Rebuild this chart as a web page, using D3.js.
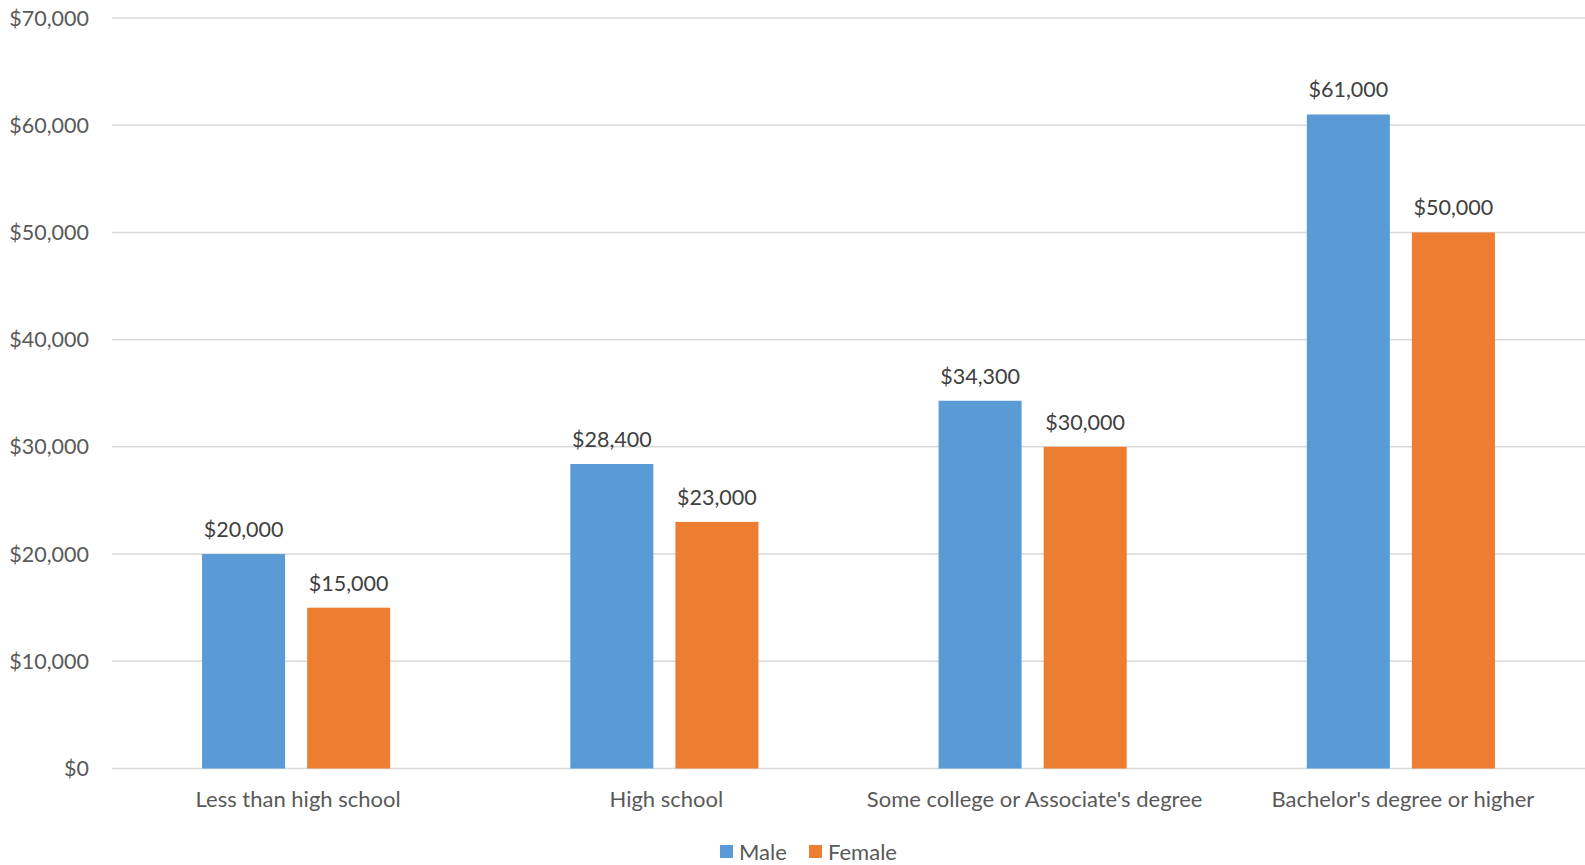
<!DOCTYPE html>
<html>
<head>
<meta charset="utf-8">
<script src="https://cdn.jsdelivr.net/npm/d3@7"></script>
<style>
  body { margin: 0; background: #fff; }
  svg { display: block; font-family: Lato, "Open Sans", sans-serif; }
</style>
</head>
<body>
<svg id="chart" width="1585" height="865"></svg>
<script>
// chart data
const categories = ["Less than high school", "High school", "Some college or Associate's degree", "Bachelor's degree or higher"];
const seriesNames = ["Male", "Female"];
const male = [20000, 28400, 34300, 61000];
const female = [15000, 23000, 30000, 50000];
const yTicks = [0, 10000, 20000, 30000, 40000, 50000, 60000, 70000];
const colors = ["#5b9bd5", "#ed7d31"];

const W = 1585, H = 865;
const margin = { top: 18, right: 0, bottom: 96, left: 112 };
const svg = d3.select("#chart");

const x = d3.scaleBand()
  .domain(categories)
  .range([margin.left, W - margin.right])
  .paddingInner(0)
  .paddingOuter(0);

const x1 = d3.scaleBand()
  .domain(seriesNames)
  .range([0, x.bandwidth()])
  .paddingInner(0.21)
  .paddingOuter(0.857);

const y = d3.scaleLinear()
  .domain([0, 70000])
  .range([H - margin.bottom - 0.5, margin.top]);

const fmt = d3.format("$,");

// gridlines
svg.append("g")
  .selectAll("line")
  .data(yTicks)
  .join("line")
  .attr("x1", margin.left)
  .attr("x2", W - margin.right)
  .attr("y1", d => y(d))
  .attr("y2", d => y(d))
  .attr("stroke", "#d9d9d9")
  .attr("stroke-width", 1.5);

// y labels
svg.append("g")
  .selectAll("text")
  .data(yTicks)
  .join("text")
  .attr("x", 89)
  .attr("y", d => y(d))
  .attr("dy", "0.35em")
  .attr("text-anchor", "end")
  .attr("font-size", 21.5)
  .attr("fill", "#595959")
  .text(d => fmt(d));

const rows = categories.map((c, i) => ({ cat: c, vals: [male[i], female[i]] }));

const groups = svg.append("g")
  .selectAll("g")
  .data(rows)
  .join("g")
  .attr("transform", d => `translate(${x(d.cat)},0)`);

groups.selectAll("rect")
  .data(d => d.vals.map((v, j) => ({ s: seriesNames[j], v, j })))
  .join("rect")
  .attr("x", d => x1(d.s))
  .attr("width", x1.bandwidth())
  .attr("y", d => y(d.v))
  .attr("height", d => y(0) - y(d.v))
  .attr("fill", d => colors[d.j]);

groups.selectAll("text.val")
  .data(d => d.vals.map((v, j) => ({ s: seriesNames[j], v, j })))
  .join("text")
  .attr("class", "val")
  .attr("x", d => x1(d.s) + x1.bandwidth() / 2)
  .attr("y", d => y(d.v) - 17)
  .attr("text-anchor", "middle")
  .attr("font-size", 21.5)
  .attr("fill", "#404040")
  .text(d => fmt(d.v));

// category labels
svg.append("g")
  .selectAll("text")
  .data(categories)
  .join("text")
  .attr("x", d => x(d) + x.bandwidth() / 2 + 2)
  .attr("y", 807)
  .attr("text-anchor", "middle")
  .attr("font-size", 22)
  .attr("fill", "#595959")
  .text(d => d);

// legend
const legend = svg.append("g").attr("transform", "translate(720,852)");
const legendX = [0, 89];
seriesNames.forEach((s, i) => {
  const g = legend.append("g").attr("transform", `translate(${legendX[i]},0)`);
  g.append("rect").attr("x", 0).attr("y", -7).attr("width", 13).attr("height", 13).attr("fill", colors[i]);
  g.append("text").attr("x", 19).attr("y", 0).attr("dy", "0.35em")
    .attr("font-size", 22).attr("fill", "#595959").text(s);
});
</script>
</body>
</html>
